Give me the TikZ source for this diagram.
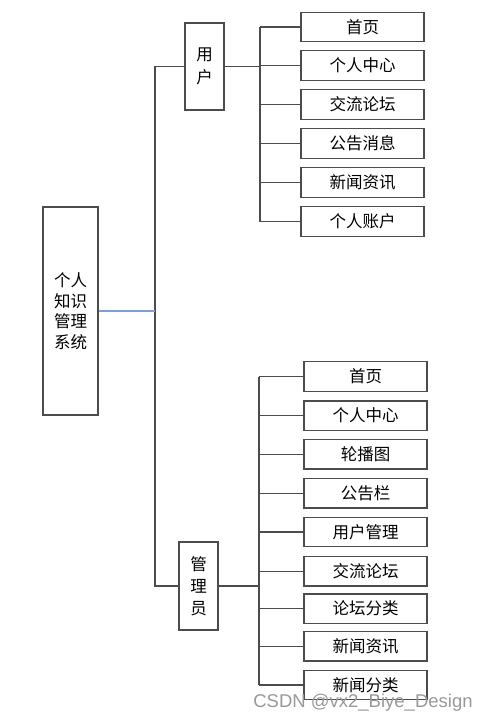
\documentclass[tikz,border=0pt]{standalone}
\usepackage{fontspec}
\newfontfamily\cjk{Noto Sans CJK SC}
\newfontfamily\wm{Liberation Sans}
\begin{document}
\begin{tikzpicture}[x=1pt,y=-1pt,
  box/.style={draw=black!70, line width=1.3pt, fill=white, inner sep=0pt, align=center},
  leaf/.style={box, minimum width=123pt, minimum height=29.5pt, font=\cjk\fontsize{16.5}{18}\selectfont},
  conn/.style={draw=black!70, line width=1.3pt}]
\useasboundingbox (0,0) rectangle (486,722);
% root and role boxes
\node[box, minimum width=55pt, minimum height=208pt, font=\cjk\fontsize{16.5}{20.6}\selectfont] (root) at (70.5,311) {个人\\知识\\管理\\系统};
\node[box, minimum width=39pt, minimum height=87pt, font=\cjk\fontsize{16.5}{23}\selectfont] (user) at (204.5,66.5) {用\\户};
\node[box, minimum width=39pt, minimum height=88pt, font=\cjk\fontsize{16.5}{22}\selectfont] (admin) at (198.5,586) {管\\理\\员};
% user leaves
\node[leaf] (u1) at (362.5,27) {首页};
\node[leaf] (u2) at (362.5,65.5) {个人中心};
\node[leaf] (u3) at (362.5,104.5) {交流论坛};
\node[leaf] (u4) at (362.5,143.5) {公告消息};
\node[leaf] (u5) at (362.5,182.5) {新闻资讯};
\node[leaf] (u6) at (362.5,221.5) {个人账户};
% admin leaves
\node[leaf] (a1) at (365.5,376.5) {首页};
\node[leaf] (a2) at (365.5,415.7) {个人中心};
\node[leaf] (a3) at (365.5,454.3) {轮播图};
\node[leaf] (a4) at (365.5,493.2) {公告栏};
\node[leaf] (a5) at (365.5,532) {用户管理};
\node[leaf] (a6) at (365.5,571.3) {交流论坛};
\node[leaf] (a7) at (365.5,608.7) {论坛分类};
\node[leaf] (a8) at (365.5,646.2) {新闻资讯};
\node[leaf] (a9) at (365.5,685) {新闻分类};
% trunk
\coordinate (tu) at (155,66.5);
\coordinate (ta) at (155,586);
\coordinate (ub) at (260,0);
\coordinate (ab) at (259,0);
\draw[conn] (user.west) -- (tu) -- (ta) -- (admin.west);
\draw[line width=1.3pt, draw={rgb,255:red,127;green,159;blue,208}] (root.east) -- (root.east -| tu);
% user bracket
\draw[conn] (user.east) -- (user.east -| ub);
\draw[conn] (u1.west -| ub) -- (u6.west -| ub);
\foreach \n in {u1,u2,u3,u4,u5,u6} \draw[conn] (\n.west) -- (\n.west -| ub);
% admin bracket
\draw[conn] (admin.east) -- (admin.east -| ab);
\draw[conn] (a1.west -| ab) -- (a9.west -| ab);
\foreach \n in {a1,a2,a3,a4,a5,a6,a7,a8,a9} \draw[conn] (\n.west) -- (\n.west -| ab);
% watermark
\node[text=black!40, font=\wm\fontsize{18.5}{20}\selectfont, inner sep=0pt] (wmk) at (363,703) {CSDN @vx2\_Biye\_Design};
\end{tikzpicture}
\end{document}
